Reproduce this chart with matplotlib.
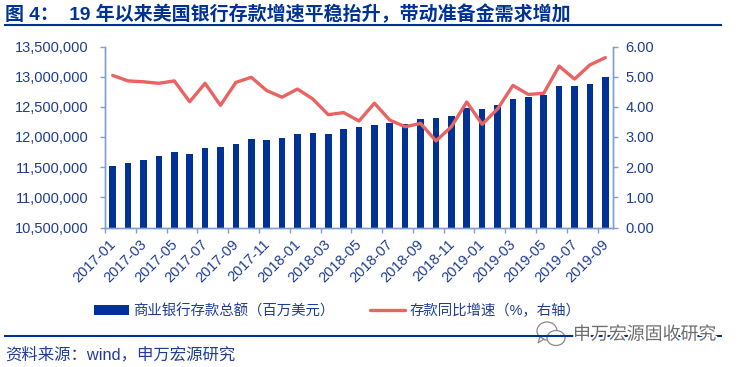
#!/usr/bin/env python3
"""US commercial bank deposits and yoy growth, 2017-01 to 2019-09."""

import matplotlib
matplotlib.use('Agg')
import matplotlib.patheffects as pe
import matplotlib.pyplot as plt
from matplotlib.patches import Ellipse, Polygon
from matplotlib.transforms import ScaledTranslation

plt.rcParams['font.family'] = ['Liberation Sans', 'Noto Sans CJK SC', 'DejaVu Sans']

months = [f'{y}-{m:02d}' for y in (2017, 2018) for m in range(1, 13)] + \
         [f'2019-{m:02d}' for m in range(1, 10)]

deposits = [
    11525000, 11569000, 11619000, 11690000, 11746000, 11718000, 11812000,
    11829000, 11890000, 11967000, 11950000, 11983000, 12050000, 12061000,
    12050000, 12133000, 12166000, 12199000, 12232000, 12221000, 12298000,
    12309000, 12348000, 12481000, 12464000, 12525000, 12624000, 12669000,
    12702000, 12851000, 12840000, 12884000, 12994000,
]
growth = [
    5.04, 4.86, 4.83, 4.78, 4.86, 4.17, 4.78, 4.05, 4.81, 4.98, 4.54,
    4.32, 4.59, 4.26, 3.74, 3.81, 3.53, 4.12, 3.56, 3.34, 3.45, 2.87,
    3.34, 4.16, 3.42, 3.93, 4.71, 4.41, 4.45, 5.35, 4.92, 5.39, 5.63,
]

left_ticks = [10500000, 11000000, 11500000, 12000000, 12500000, 13000000, 13500000]
right_ticks = [0, 1, 2, 3, 4, 5, 6]

title = '图 4：  19 年以来美国银行存款增速平稳抬升，带动准备金需求增加'
bar_label = '商业银行存款总额（百万美元）'
line_label = '存款同比增速（%，右轴）'
source = '资料来源：wind，申万宏源研究'
watermark = '申万宏源固收研究'

NAVY = '#003296'
TEXT = '#1F3D94'
RED = '#E96362'
AXIS = '#7F9FD2'
W, H = 739, 367

fig = plt.figure(figsize=(W / 100, H / 100), dpi=100, facecolor='white')
ax = fig.add_axes([105 / W, 1 - 227.5 / H, 508 / W, 181 / H])
ax2 = ax.twinx()

x = list(range(len(months)))
bars = ax.bar(x, deposits, width=0.43, color=NAVY, label=bar_label)
line, = ax2.plot(x, growth, color=RED, linewidth=2.4, label=line_label,
                 solid_capstyle='round', solid_joinstyle='round')

ax.set_xlim(-0.5, len(months) - 0.5)
ax.set_ylim(10500000, 13500000)
ax2.set_ylim(0, 6)

ax.set_yticks(left_ticks)
ax.set_yticklabels([f'{v:,}' for v in left_ticks])
ax2.set_yticks(right_ticks)
ax2.set_yticklabels([f'{v:.2f}' for v in right_ticks])

# ticks sit on the category edges, labels on the category centres
ax.set_xticks([i - 0.5 for i in x[::2]])
ax.set_xticklabels([])
ax.set_xticks(x[::2], minor=True)
ax.set_xticklabels(months[::2], minor=True, rotation=45, ha='right',
                   rotation_mode='anchor')

for a in (ax, ax2):
    a.spines['top'].set_visible(False)
    for s in ('left', 'right', 'bottom'):
        a.spines[s].set_color(AXIS)
        a.spines[s].set_linewidth(1.0)
    a.tick_params(axis='y', colors=TEXT, labelsize=10.5, length=3.6, width=1,
                  color=AXIS)
ax.tick_params(axis='y', pad=8.5)
ax2.tick_params(axis='y', pad=5.5)
ax.tick_params(axis='x', which='major', length=3.6, width=1, color=AXIS)
ax.tick_params(axis='x', which='minor', length=0, colors=TEXT, labelsize=10.5, pad=7)

# nudge the rotated month labels a little to the left
nudge = ScaledTranslation(-3 / 72, 0, fig.dpi_scale_trans)
for lab in ax.get_xticklabels(minor=True):
    lab.set_transform(lab.get_transform() + nudge)

fig.legend([bars, line], [bar_label, line_label], ncol=2, frameon=False,
           loc='center', bbox_to_anchor=(337 / W, 1 - 311 / H), fontsize=10.4,
           labelcolor=TEXT, handlelength=2.4, handleheight=0.6, handletextpad=0.3,
           columnspacing=2.5, borderpad=0, borderaxespad=0)

# page furniture, in pixel coordinates
page = fig.add_axes([0, 0, 1, 1], facecolor='none')
page.set_xlim(0, W)
page.set_ylim(H, 0)
page.axis('off')
page.plot([5, 721], [24.5, 24.5], color=NAVY, linewidth=1.5)
page.plot([5, 721], [335.7, 335.7], color=NAVY, linewidth=1.5)
page.text(5, 14, title, color=NAVY, fontsize=13.7, fontweight='bold', va='center')
page.text(5, 355, source, color=TEXT, fontsize=11.8, va='center')

halo = [pe.withStroke(linewidth=2.5, foreground='white')]
for cx, cy, w, h in [(547, 331, 20, 18), (556, 338, 18, 15)]:
    page.add_patch(Ellipse((cx, cy), w, h, facecolor='white', edgecolor='#8A8A8A',
                           linewidth=0.9))
page.add_patch(Polygon([(540, 337), (538, 343), (544, 339)], facecolor='white',
                       edgecolor='#8A8A8A', linewidth=0.9))
page.text(573, 335, watermark, color='#6E6E6E', fontsize=12.9, va='center',
          path_effects=halo)

fig.savefig('out.png', dpi=100)
